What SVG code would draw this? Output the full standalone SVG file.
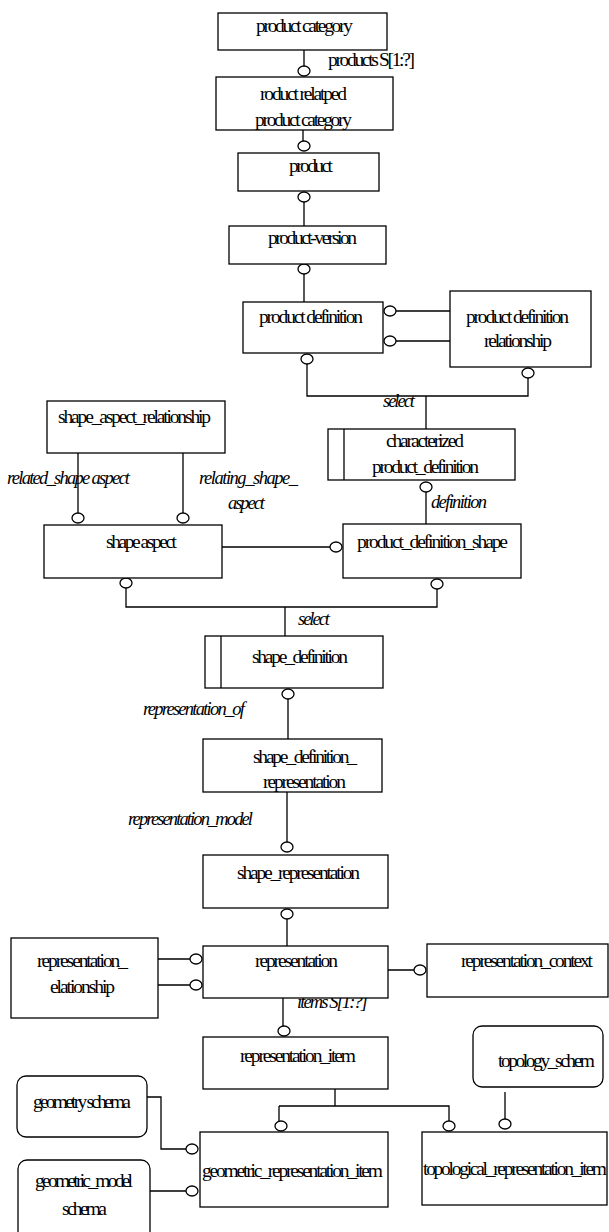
<svg xmlns="http://www.w3.org/2000/svg" width="609" height="1232" viewBox="0 0 609 1232">
<style>
.box{fill:#fff;stroke:#000;stroke-width:1.3}
.t{font-family:"Liberation Serif","Times New Roman",serif;font-size:19.5px;fill:#000}
.i{font-family:"Liberation Serif","Times New Roman",serif;font-size:18.5px;font-style:italic;fill:#000}
.con{fill:none;stroke:#000;stroke-width:1.3}
.o{fill:#fff;stroke:#000;stroke-width:1.3}
</style>
<rect width="609" height="1232" fill="#fff"/>
<g id="connectors">
<path class="con" d="M304,50V66 M303,130V141 M304,202V226 M304,274V302 M396,311H450 M396,341H450 M307,364V396H528V378 M426,396V429 M426,492V524 M78,453V513 M183,453V513 M222,547H330 M126,588V607H437V589 M285,607V636 M288,699V739 M287,792V842 M287,919V946 M158,959H190 M158,985H190 M388,970H414 M283,998V1026 M335,1089V1106 M279,1106H449V1121 M279,1106V1121 M505,1092V1119 M147,1097H161V1149H186 M150,1191H186"/>
<ellipse class="o" cx="304" cy="71" rx="6" ry="5"/>
<ellipse class="o" cx="304" cy="146" rx="6" ry="5"/>
<ellipse class="o" cx="304" cy="197" rx="6" ry="5"/>
<ellipse class="o" cx="304" cy="269" rx="6" ry="5"/>
<ellipse class="o" cx="390" cy="311" rx="6" ry="5"/>
<ellipse class="o" cx="390" cy="341" rx="6" ry="5"/>
<ellipse class="o" cx="307" cy="359" rx="6" ry="5"/>
<ellipse class="o" cx="528" cy="373" rx="6" ry="5"/>
<ellipse class="o" cx="426" cy="487" rx="6" ry="5"/>
<ellipse class="o" cx="78" cy="518" rx="6" ry="5"/>
<ellipse class="o" cx="183" cy="518" rx="6" ry="5"/>
<ellipse class="o" cx="336" cy="547" rx="6" ry="5"/>
<ellipse class="o" cx="126" cy="583" rx="6" ry="5"/>
<ellipse class="o" cx="437" cy="584" rx="6" ry="5"/>
<ellipse class="o" cx="288" cy="694" rx="6" ry="5"/>
<ellipse class="o" cx="287" cy="847" rx="6" ry="5"/>
<ellipse class="o" cx="287" cy="914" rx="6" ry="5"/>
<ellipse class="o" cx="196" cy="959" rx="6" ry="5"/>
<ellipse class="o" cx="196" cy="985" rx="6" ry="5"/>
<ellipse class="o" cx="420" cy="970" rx="6" ry="5"/>
<ellipse class="o" cx="284" cy="1031" rx="6" ry="5"/>
<ellipse class="o" cx="281" cy="1126" rx="6" ry="5"/>
<ellipse class="o" cx="449" cy="1126" rx="6" ry="5"/>
<ellipse class="o" cx="505" cy="1124" rx="6" ry="5"/>
<ellipse class="o" cx="192" cy="1149" rx="6" ry="5"/>
<ellipse class="o" cx="192" cy="1191" rx="6" ry="5"/>
<text class="t" x="328" y="66" textLength="87">products S[1:?]</text>
<text class="i" x="383" y="407" textLength="32">select</text>
<text class="i" x="7" y="484" textLength="123">related_shape aspect</text>
<text class="i" x="199" y="484" textLength="99">relating_shape_</text>
<text class="i" x="228" y="509" textLength="37">aspect</text>
<text class="i" x="431" y="508" textLength="56">definition</text>
<text class="i" x="298" y="625" textLength="32">select</text>
<text class="i" x="143" y="715" textLength="102">representation_of</text>
<text class="i" x="128" y="825" textLength="125">representation_model</text>
<text class="i" x="297" y="1008" textLength="71">items S[1:?]</text>
</g>
<g id="product_category">
<rect class="box" x="218" y="13" width="169" height="37"/>
<text class="t" x="256" y="32" textLength="97">product category</text>
</g>
<g id="product_related_product_category">
<rect class="box" x="216" y="77" width="177" height="53"/>
<text class="t" x="260" y="100" textLength="87">roduct relatped</text>
<text class="t" x="255" y="126" textLength="97">product category</text>
</g>
<g id="product">
<rect class="box" x="238" y="153" width="141" height="38"/>
<text class="t" x="289" y="172" textLength="44">product</text>
</g>
<g id="product_version">
<rect class="box" x="229" y="226" width="157" height="38"/>
<text class="t" x="268" y="244" textLength="89">product-version</text>
</g>
<g id="product_definition">
<rect class="box" x="243" y="302" width="140" height="51"/>
<text class="t" x="259" y="323" textLength="104">product definition</text>
</g>
<g id="product_definition_relationship">
<rect class="box" x="450" y="291" width="141" height="76"/>
<text class="t" x="466" y="323" textLength="103">product definition</text>
<text class="t" x="484" y="347" textLength="68">relationship</text>
</g>
<g id="characterized_product_definition">
<rect class="box" x="328" y="429" width="187" height="51"/>
<line class="con" x1="344" y1="429" x2="344" y2="480"/>
<text class="t" x="386" y="447" textLength="78">characterized</text>
<text class="t" x="372" y="473" textLength="107">product_definition</text>
</g>
<g id="shape_aspect_relationship">
<rect class="box" x="47" y="401" width="178" height="52"/>
<text class="t" x="58" y="423" textLength="153">shape_aspect_relationship</text>
</g>
<g id="shape_aspect">
<rect class="box" x="44" y="525" width="178" height="53"/>
<text class="t" x="106" y="548" textLength="71">shape aspect</text>
</g>
<g id="product_definition_shape">
<rect class="box" x="343" y="524" width="178" height="54"/>
<text class="t" x="357" y="548" textLength="151">product_definition_shape</text>
</g>
<g id="shape_definition">
<rect class="box" x="205" y="636" width="178" height="52"/>
<line class="con" x1="221" y1="636" x2="221" y2="688"/>
<text class="t" x="252" y="663" textLength="96">shape_definition</text>
</g>
<g id="shape_definition_representation">
<rect class="box" x="203" y="739" width="179" height="53"/>
<text class="t" x="253" y="763" textLength="104">shape_definition_</text>
<text class="t" x="263" y="788" textLength="83">representation</text>
</g>
<g id="shape_representation">
<rect class="box" x="203" y="855" width="185" height="53"/>
<text class="t" x="237" y="879" textLength="123">shape_representation</text>
</g>
<g id="representation">
<rect class="box" x="203" y="946" width="185" height="52"/>
<text class="t" x="255" y="967" textLength="83">representation</text>
</g>
<g id="representation_relationship">
<rect class="box" x="11" y="938" width="147" height="80"/>
<text class="t" x="37" y="967" textLength="91">representation_</text>
<text class="t" x="50" y="993" textLength="65">elationship</text>
</g>
<g id="representation_context">
<rect class="box" x="427" y="944" width="181" height="53"/>
<text class="t" x="461" y="967" textLength="132">representation_context</text>
</g>
<g id="representation_item">
<rect class="box" x="203" y="1037" width="185" height="52"/>
<text class="t" x="240" y="1062" textLength="116">representation_item</text>
</g>
<g id="topology_schema">
<rect class="box" x="473" y="1026" width="130" height="61" rx="9"/>
<text class="t" x="498" y="1067" textLength="97">topology_schem</text>
</g>
<g id="geometry_schema">
<rect class="box" x="17" y="1076" width="130" height="61" rx="9"/>
<text class="t" x="33" y="1108" textLength="98">geometry schema</text>
</g>
<g id="geometric_representation_item">
<rect class="box" x="200" y="1132" width="188" height="75"/>
<text class="t" x="202" y="1177" textLength="181">geometric_representation_item</text>
</g>
<g id="topological_representation_item">
<rect class="box" x="422" y="1132" width="185" height="73"/>
<text class="t" x="423" y="1175" textLength="184">topological_representation_item</text>
</g>
<g id="geometric_model_schema">
<rect class="box" x="18" y="1160" width="132" height="80" rx="9"/>
<text class="t" x="35" y="1187" textLength="98">geometric_model</text>
<text class="t" x="62" y="1215" textLength="45">schema</text>
</g>
</svg>
